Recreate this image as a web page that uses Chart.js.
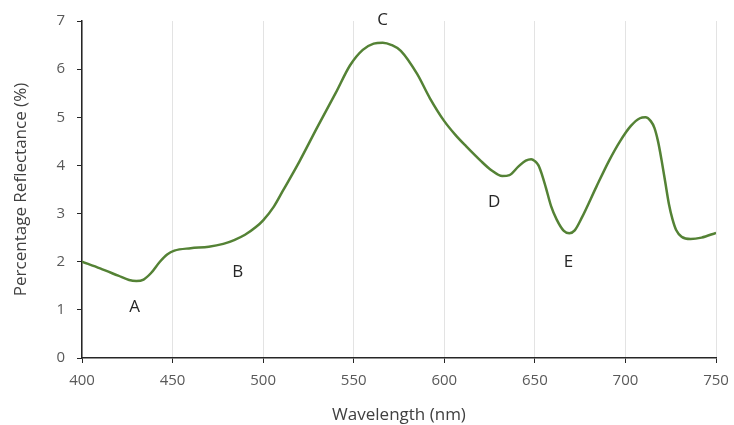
<!DOCTYPE html>
<html>
<head>
<meta charset="utf-8">
<script src="https://cdn.jsdelivr.net/npm/chart.js@4"></script>
<style>
  html, body { margin: 0; padding: 0; background: #fff; }
  #wrap { width: 734px; height: 425px; }
</style>
</head>
<body>
<div id="wrap"><canvas id="spectrum"></canvas></div>
<script>
// ================= DATA =================

const wavelengths = [
  400, 410, 420, 426, 430, 434, 438, 443, 447, 451, 460, 470, 478, 484, 490,
  496, 500, 506, 511, 520, 530, 540, 548, 555, 561, 566, 571, 576, 585, 592, 600,
  606, 612, 620, 626, 632, 636, 641, 645, 648, 650, 652, 654, 656, 659, 662, 666, 669, 672,
  676, 684, 691, 697, 703, 708, 711, 714, 716, 718, 720, 722, 724, 726, 728, 731, 736, 742, 750
];

const reflectance = [
  2.0, 1.86, 1.71, 1.62, 1.6, 1.63, 1.76, 2.0, 2.15, 2.23, 2.28, 2.31, 2.37, 2.45, 2.56,
  2.72, 2.86, 3.15, 3.48, 4.08, 4.8, 5.5, 6.08, 6.4, 6.53, 6.55, 6.5, 6.38, 5.9, 5.4, 4.92,
  4.64, 4.4, 4.1, 3.9, 3.78, 3.8, 3.98, 4.1, 4.13, 4.09, 4.0, 3.8, 3.55, 3.15, 2.88, 2.64, 2.59, 2.65,
  2.92, 3.56, 4.1, 4.5, 4.82, 4.98, 5.0, 4.92, 4.78, 4.5, 4.1, 3.65, 3.2, 2.88, 2.66, 2.52, 2.47, 2.5, 2.6
];

// point labels, in data units (nm, %)
const markNames = ["A", "B", "C", "D", "E"];
const markX = [429, 486, 566, 627.5, 668.5];
const markY = [1.06, 1.79, 7.02, 3.24, 2.0];

// ================= CHART =================

const points = wavelengths.map((w, i) => ({ x: w, y: reflectance[i] }));

const markLabels = {
  id: "markLabels",
  afterDraw(chart) {
    const ctx = chart.ctx;
    const xs = chart.scales.x;
    const ys = chart.scales.y;
    ctx.save();
    ctx.font = "17px 'Open Sans'";
    ctx.fillStyle = "#262626";
    ctx.textAlign = "center";
    ctx.textBaseline = "middle";
    markNames.forEach((name, i) => {
      ctx.fillText(name, xs.getPixelForValue(markX[i]), ys.getPixelForValue(markY[i]));
    });
    ctx.restore();
  }
};

const ctx = document.getElementById("spectrum").getContext("2d");
new Chart(ctx, {
  type: "line",
  data: {
    datasets: [{
      data: points,
      borderColor: "#548235",
      borderWidth: 2.5,
      pointRadius: 0,
      fill: false,
      cubicInterpolationMode: "monotone"
    }]
  },
  options: {
    responsive: true,
    maintainAspectRatio: false,
    animation: false,
    layout: { padding: { top: 21, right: 18, left: 0, bottom: 0 } },
    plugins: {
      legend: { display: false },
      tooltip: { enabled: false }
    },
    scales: {
      x: {
        type: "linear",
        min: 400,
        max: 750,
        afterFit: s => { s.height = 67; s.paddingLeft = 0; s.paddingRight = 0; },
        ticks: {
          stepSize: 50,
          color: "#595959",
          font: { family: "Open Sans", size: 15 },
          padding: 9
        },
        grid: {
          color: "#e3e3e3",
          tickColor: "#262626",
          tickLength: 5
        },
        border: { color: "#262626", width: 1.5 },
        title: {
          display: true,
          text: "Wavelength (nm)",
          color: "#404040",
          font: { family: "Open Sans", size: 17 },
          padding: { top: 4, bottom: 0 }
        }
      },
      y: {
        min: 0,
        max: 7,
        afterFit: s => { s.width = 82; s.paddingTop = 0; s.paddingBottom = 0; },
        ticks: {
          stepSize: 1,
          color: "#595959",
          font: { family: "Open Sans", size: 15 },
          padding: 12
        },
        grid: {
          drawOnChartArea: false,
          tickColor: "#262626",
          tickLength: 5
        },
        border: { color: "#262626", width: 1.5 },
        title: {
          display: true,
          text: "Percentage Reflectance (%)",
          color: "#404040",
          font: { family: "Open Sans", size: 17 },
          padding: { top: 11, bottom: 4 }
        }
      }
    }
  },
  plugins: [markLabels]
});
</script>
</body>
</html>
